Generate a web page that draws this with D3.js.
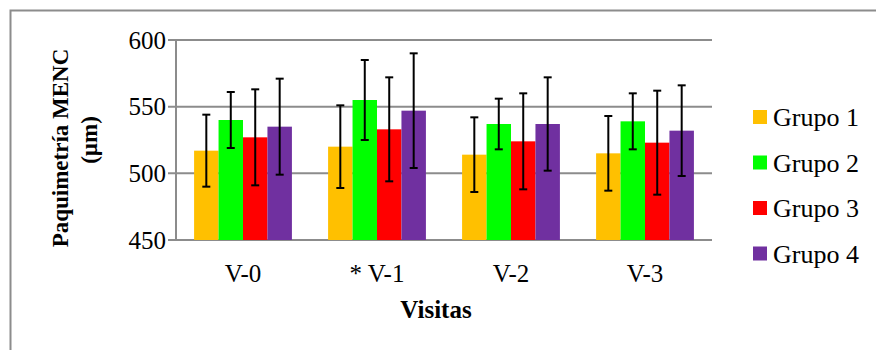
<!DOCTYPE html>
<html>
<head>
<meta charset="UTF-8">
<title>Paquimetría MENC</title>
<script src="https://cdn.jsdelivr.net/npm/d3@7"></script>
<style>
  body { margin: 0; background: #fff; }
  svg text { font-family: "Liberation Serif", "Times New Roman", serif; fill: #000; }
</style>
</head>
<body>
<svg id="chart" width="876" height="350"></svg>
<script>
// data
const visitas = ["V-0", "* V-1", "V-2", "V-3"];
const grupos = ["Grupo 1", "Grupo 2", "Grupo 3", "Grupo 4"];
const colores = ["#FFC000", "#00FF00", "#FF0000", "#7030A0"];
// mean per grupo, one array per visita
const medias = [
  [517, 540, 527, 535],
  [520, 555, 533, 547],
  [514, 537, 524, 537],
  [515, 539, 523, 532]
];
// +/- error (sd) per grupo
const errores = [
  [27, 21, 36, 36],
  [31, 30, 39, 43],
  [28, 19, 36, 35],
  [28, 21, 39, 34]
];
const yTicks = [450, 500, 550, 600];

const FONT = "'Liberation Serif', 'Times New Roman', serif";
const svg = d3.select("#chart");
const margin = { top: 40, left: 176, right: 164, bottom: 110 };
const width = 876 - margin.left - margin.right;
const height = 350 - margin.top - margin.bottom;

// outer frame (only top and left edges fall inside the picture)
svg.append("rect")
    .attr("x", 10.5).attr("y", 10.5)
    .attr("width", 900).attr("height", 400)
    .attr("fill", "none").attr("stroke", "#8c8c8c").attr("stroke-width", 2);

const g = svg.append("g").attr("transform", "translate(" + margin.left + "," + margin.top + ")");

const x0 = d3.scaleBand().domain(visitas).range([0, width]).paddingInner(0.27).paddingOuter(0.135);
const x1 = d3.scaleBand().domain(grupos).range([0, x0.bandwidth()]);
const y = d3.scaleLinear().domain([450, 600]).range([height, 0]);

// gridlines
g.selectAll(".grid").data(yTicks).enter().append("line")
    .attr("x1", -8).attr("x2", width)
    .attr("y1", d => y(d)).attr("y2", d => y(d))
    .attr("stroke", "#8c8c8c").attr("stroke-width", 2);

// y axis line
g.append("line").attr("x1", 0).attr("x2", 0).attr("y1", 0).attr("y2", height)
    .attr("stroke", "#8c8c8c").attr("stroke-width", 2);

// y tick labels
g.selectAll(".ylab").data(yTicks).enter().append("text")
    .attr("x", -10).attr("y", d => y(d)).attr("dy", "0.35em")
    .attr("text-anchor", "end")
    .style("font-family", FONT).style("font-size", "25px")
    .text(d => d);

// bars
const grp = g.selectAll(".visita").data(visitas).enter().append("g")
    .attr("transform", d => "translate(" + x0(d) + ",0)");

grp.selectAll("rect").data((d, i) => medias[i].map((v, j) => ({ v, j }))).enter().append("rect")
    .attr("x", d => x1(grupos[d.j]))
    .attr("y", d => y(d.v))
    .attr("width", x1.bandwidth())
    .attr("height", d => height - y(d.v))
    .attr("fill", d => colores[d.j]);

// error bars
const eb = grp.selectAll(".err").data((d, i) => medias[i].map((v, j) => ({ v, e: errores[i][j], j }))).enter().append("g");
eb.append("line")
    .attr("x1", d => x1(grupos[d.j]) + x1.bandwidth() / 2)
    .attr("x2", d => x1(grupos[d.j]) + x1.bandwidth() / 2)
    .attr("y1", d => y(d.v + d.e)).attr("y2", d => y(d.v - d.e))
    .attr("stroke", "#000").attr("stroke-width", 2);
[1, -1].forEach(s => {
  eb.append("line")
      .attr("x1", d => x1(grupos[d.j]) + x1.bandwidth() / 2 - 4)
      .attr("x2", d => x1(grupos[d.j]) + x1.bandwidth() / 2 + 4)
      .attr("y1", d => y(d.v + s * d.e)).attr("y2", d => y(d.v + s * d.e))
      .attr("stroke", "#000").attr("stroke-width", 2);
});

// x category labels
g.selectAll(".xlab").data(visitas).enter().append("text")
    .attr("x", d => x0(d) + x0.bandwidth() / 2)
    .attr("y", height + 42)
    .attr("text-anchor", "middle")
    .style("font-family", FONT).style("font-size", "25px")
    .text(d => d);

// axis titles
g.append("text")
    .attr("x", width / 2 - 8).attr("y", height + 78)
    .attr("text-anchor", "middle")
    .style("font-family", FONT).style("font-size", "25px").style("font-weight", "bold")
    .text("Visitas");

svg.append("text")
    .attr("transform", "translate(68,148) rotate(-90)")
    .attr("text-anchor", "middle")
    .style("font-family", FONT).style("font-size", "23px").style("font-weight", "bold")
    .text("Paquimetría MENC");
svg.append("text")
    .attr("transform", "translate(97,140) rotate(-90)")
    .attr("text-anchor", "middle")
    .style("font-family", FONT).style("font-size", "23px").style("font-weight", "bold")
    .text("(µm)");

// legend
const leg = svg.append("g").attr("transform", "translate(753,117)");
const li = leg.selectAll(".li").data(grupos).enter().append("g")
    .attr("transform", (d, i) => "translate(0," + i * 45.5 + ")");
li.append("rect").attr("x", 0).attr("y", -7).attr("width", 14).attr("height", 14)
    .attr("fill", (d, i) => colores[i]);
li.append("text").attr("x", 20).attr("y", 0).attr("dy", "0.35em")
    .style("font-family", FONT).style("font-size", "26px")
    .text(d => d);
</script>
</body>
</html>
